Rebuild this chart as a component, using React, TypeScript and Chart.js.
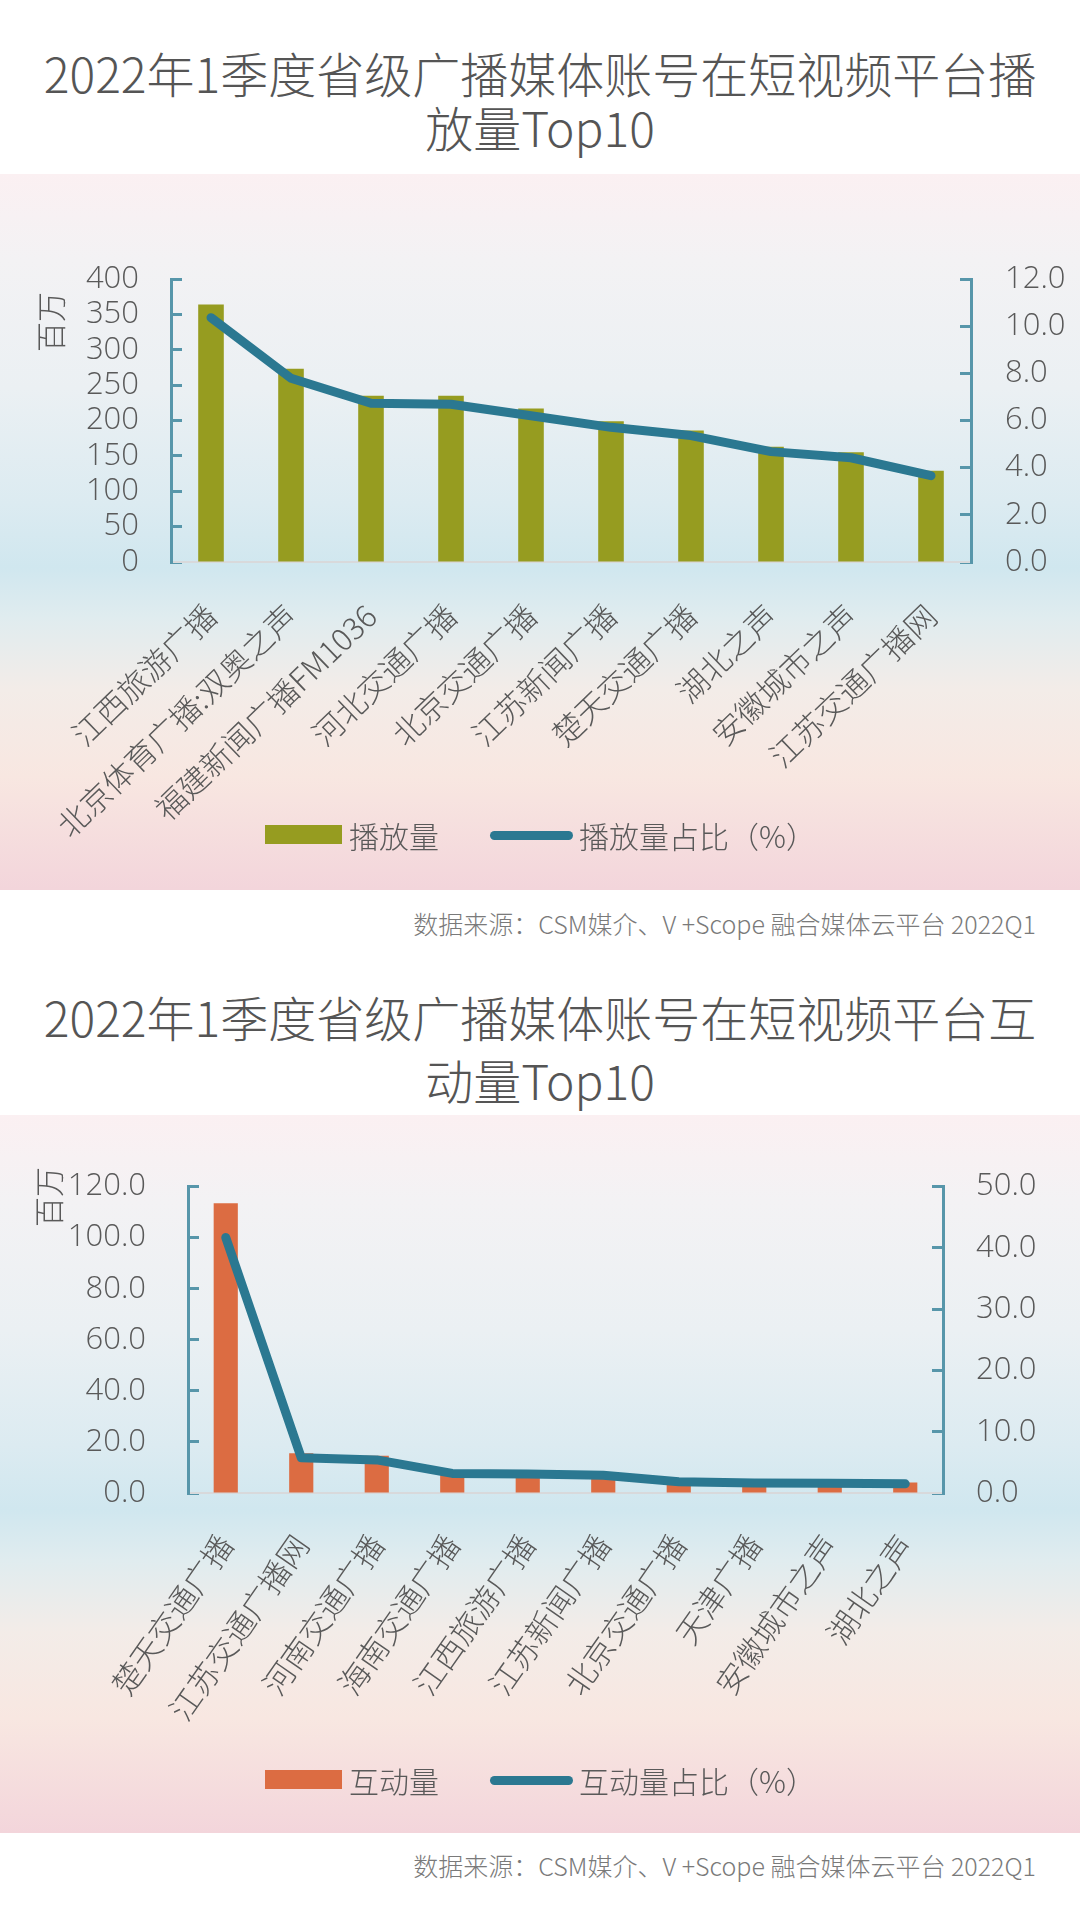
import React, { useEffect, useRef } from 'react';
import { Chart, registerables } from 'chart.js';

Chart.register(...registerables);

// ---------- Chart 1: 播放量 ----------
const playCategories = [
  '江西旅游广播',
  '北京体育广播:双奥之声',
  '福建新闻广播FM1036',
  '河北交通广播',
  '北京交通广播',
  '江苏新闻广播',
  '楚天交通广播',
  '湖北之声',
  '安徽城市之声',
  '江苏交通广播网',
];
const playVolume = [364, 273, 235, 235, 217, 199, 186, 163, 155, 129];
const playShare = [10.36, 7.79, 6.73, 6.69, 6.2, 5.71, 5.36, 4.68, 4.42, 3.66];
const playLeftTicks = [0, 50, 100, 150, 200, 250, 300, 350, 400];
const playRightTicks = [0, 2, 4, 6, 8, 10, 12];

// ---------- Chart 2: 互动量 ----------
const interCategories = [
  '楚天交通广播',
  '江苏交通广播网',
  '河南交通广播',
  '海南交通广播',
  '江西旅游广播',
  '江苏新闻广播',
  '北京交通广播',
  '天津广播',
  '安徽城市之声',
  '湖北之声',
];
const interVolume = [113.5, 15.6, 14.6, 8.7, 8.4, 7.9, 5.0, 4.5, 4.35, 4.1];
const interShare = [41.7, 5.75, 5.4, 3.2, 3.1, 2.9, 1.85, 1.65, 1.6, 1.5];
const interLeftTicks = [0, 20, 40, 60, 80, 100, 120];
const interRightTicks = [0, 10, 20, 30, 40, 50];

const OLIVE = '#969c20';
const ORANGE = '#dc6c42';
const LINE_COLOR = '#2b7891';
const AXIS_COLOR = '#5796aa';
const TEXT_COLOR = '#595959';
const CJK = '"Noto Sans CJK SC", "Noto Sans", sans-serif';
const NUM = '"Open Sans", "Noto Sans", "Noto Sans CJK SC", sans-serif';

const PANEL_BG =
  'linear-gradient(to bottom, #fbf0f2 0%, #f3f2f4 12%, #ebf0f3 30%, #dcebf1 46%, #d0e7ef 55%, #e0ecef 62%, #f3ece8 72%, #f8e7e1 84%, #f3d5db 100%)';

type ComboProps = {
  top: number;
  height: number;
  categories: string[];
  bars: number[];
  line: number[];
  barColor: string;
  barLabel: string;
  lineLabel: string;
  leftTicks: number[];
  rightTicks: number[];
  leftDecimals: number;
  rightDecimals: number;
  areaLeft: number;
  areaRight: number;
  areaTop: number;
  areaBottom: number;
  leftPad: number;
  rightPad: number;
  rotation: number;
};

function ComboChart(p: ComboProps) {
  const ref = useRef<HTMLCanvasElement>(null);
  useEffect(() => {
    const canvas = ref.current;
    if (!canvas) return;
    const W = 1080;
    const tickFont = { family: NUM, size: 31, weight: '300' as any };
    const yAxisCommon = {
      grid: {
        display: true,
        drawOnChartArea: false,
        drawTicks: true,
        tickLength: -11,
        tickColor: AXIS_COLOR,
        tickWidth: 3,
      },
      border: { display: true, color: AXIS_COLOR, width: 3 },
    };
    const chart = new Chart(canvas, {
      type: 'bar',
      data: {
        labels: p.categories,
        datasets: [
          {
            type: 'line',
            label: p.lineLabel,
            data: p.line,
            yAxisID: 'y1',
            borderColor: LINE_COLOR,
            backgroundColor: LINE_COLOR,
            borderWidth: 9,
            pointRadius: 0,
            pointHoverRadius: 0,
            tension: 0,
            borderCapStyle: 'round',
            borderJoinStyle: 'round',
            order: 0,
          } as any,
          {
            type: 'bar',
            label: p.barLabel,
            data: p.bars,
            yAxisID: 'y',
            backgroundColor: p.barColor,
            categoryPercentage: 0.8,
            barPercentage: 0.4,
            order: 1,
          } as any,
        ],
      },
      options: {
        animation: false,
        responsive: false,
        maintainAspectRatio: false,
        layout: { padding: { left: 0, right: 0, top: p.areaTop, bottom: 0 } },
        plugins: { legend: { display: false }, tooltip: { enabled: false } },
        scales: {
          x: {
            grid: { display: false, drawTicks: false },
            border: { display: true, color: '#d8d9db', width: 2 },
            ticks: {
              autoSkip: false,
              maxRotation: p.rotation,
              minRotation: p.rotation,
              padding: 35,
              color: TEXT_COLOR,
              font: { family: CJK, size: 31, weight: '300' as any },
            },
            afterFit: (s: any) => {
              s.height = p.height - p.areaBottom;
            },
          },
          y: {
            position: 'left',
            min: p.leftTicks[0],
            max: p.leftTicks[p.leftTicks.length - 1],
            afterBuildTicks: (s: any) => {
              s.ticks = p.leftTicks.map((v) => ({ value: v }));
            },
            ticks: {
              autoSkip: false,
              padding: p.leftPad,
              color: TEXT_COLOR,
              font: tickFont,
              callback: (v: any) => Number(v).toFixed(p.leftDecimals),
            },
            afterFit: (s: any) => {
              s.width = p.areaLeft;
            },
            ...yAxisCommon,
          } as any,
          y1: {
            position: 'right',
            min: p.rightTicks[0],
            max: p.rightTicks[p.rightTicks.length - 1],
            afterBuildTicks: (s: any) => {
              s.ticks = p.rightTicks.map((v) => ({ value: v }));
            },
            ticks: {
              autoSkip: false,
              padding: p.rightPad,
              color: TEXT_COLOR,
              font: tickFont,
              callback: (v: any) => Number(v).toFixed(p.rightDecimals),
            },
            afterFit: (s: any) => {
              s.width = W - p.areaRight;
            },
            ...yAxisCommon,
          } as any,
        },
      },
    });
    return () => chart.destroy();
  }, []);
  return (
    <canvas
      ref={ref}
      width={1080}
      height={p.height}
      style={{ position: 'absolute', left: 0, top: p.top, width: 1080, height: p.height }}
    />
  );
}

function Legend(props: { y: number; barColor: string; barLabel: string; lineLabel: string }) {
  const { y, barColor, barLabel, lineLabel } = props;
  const txt: React.CSSProperties = {
    position: 'absolute',
    top: y - 22,
    height: 44,
    lineHeight: '44px',
    fontSize: 30,
    fontFamily: CJK,
    fontWeight: 300,
    color: TEXT_COLOR,
    whiteSpace: 'nowrap',
  };
  return (
    <>
      <div style={{ position: 'absolute', left: 265, top: y - 10, width: 77, height: 19, background: barColor }} />
      <div style={{ ...txt, left: 349 }}>{barLabel}</div>
      <div
        style={{ position: 'absolute', left: 490, top: y - 4, width: 83, height: 9, borderRadius: 5, background: LINE_COLOR }}
      />
      <div style={{ ...txt, left: 579 }}>{lineLabel}</div>
    </>
  );
}

function TitleLine(props: { center: number; text: string }) {
  return (
    <div
      style={{
        position: 'absolute',
        left: 0,
        width: 1080,
        top: props.center - 30,
        height: 60,
        lineHeight: '60px',
        textAlign: 'center',
        fontSize: 48,
        fontFamily: CJK,
        fontWeight: 300,
        color: '#555555',
        whiteSpace: 'nowrap',
      }}
    >
      {props.text}
    </div>
  );
}

function Source(props: { center: number }) {
  return (
    <div
      style={{
        position: 'absolute',
        right: 44,
        top: props.center - 17,
        height: 34,
        lineHeight: '34px',
        fontSize: 25,
        fontFamily: CJK,
        fontWeight: 300,
        color: '#7a7a7a',
        whiteSpace: 'nowrap',
      }}
    >
      数据来源：CSM媒介、V +Scope 融合媒体云平台 2022Q1
    </div>
  );
}

function UnitLabel(props: { x: number; y: number }) {
  return (
    <div
      style={{
        position: 'absolute',
        left: props.x,
        top: props.y,
        transform: 'translate(-50%, -50%) rotate(-90deg)',
        fontSize: 30,
        fontFamily: CJK,
        fontWeight: 300,
        color: TEXT_COLOR,
        whiteSpace: 'nowrap',
        lineHeight: '36px',
      }}
    >
      百万
    </div>
  );
}

export default function App() {
  return (
    <div
      style={{
        position: 'absolute',
        left: 0,
        top: 0,
        width: 1080,
        height: 1919,
        background: '#ffffff',
        overflow: 'hidden',
      }}
    >
      <TitleLine center={72} text="2022年1季度省级广播媒体账号在短视频平台播" />
      <TitleLine center={126} text="放量Top10" />
      <div style={{ position: 'absolute', left: 0, top: 174, width: 1080, height: 716, background: PANEL_BG }} />
      <ComboChart
        top={175}
        height={700}
        categories={playCategories}
        bars={playVolume}
        line={playShare}
        barColor={OLIVE}
        barLabel="播放量"
        lineLabel="播放量占比（%）"
        leftTicks={playLeftTicks}
        rightTicks={playRightTicks}
        leftDecimals={0}
        rightDecimals={1}
        areaLeft={171}
        areaRight={971}
        areaTop={104}
        areaBottom={387}
        leftPad={43}
        rightPad={45}
        rotation={44}
      />
      <UnitLabel x={49} y={322} />
      <Legend y={835} barColor={OLIVE} barLabel="播放量" lineLabel="播放量占比（%）" />
      <Source center={923} />

      <TitleLine center={1016} text="2022年1季度省级广播媒体账号在短视频平台互" />
      <TitleLine center={1079} text="动量Top10" />
      <div style={{ position: 'absolute', left: 0, top: 1115, width: 1080, height: 718, background: PANEL_BG }} />
      <ComboChart
        top={1115}
        height={700}
        categories={interCategories}
        bars={interVolume}
        line={interShare}
        barColor={ORANGE}
        barLabel="互动量"
        lineLabel="互动量占比（%）"
        leftTicks={interLeftTicks}
        rightTicks={interRightTicks}
        leftDecimals={1}
        rightDecimals={1}
        areaLeft={188}
        areaRight={943}
        areaTop={45}
        areaBottom={378}
        leftPad={53}
        rightPad={44}
        rotation={55}
      />
      <UnitLabel x={47} y={1197} />
      <Legend y={1780} barColor={ORANGE} barLabel="互动量" lineLabel="互动量占比（%）" />
      <Source center={1865} />
    </div>
  );
}
